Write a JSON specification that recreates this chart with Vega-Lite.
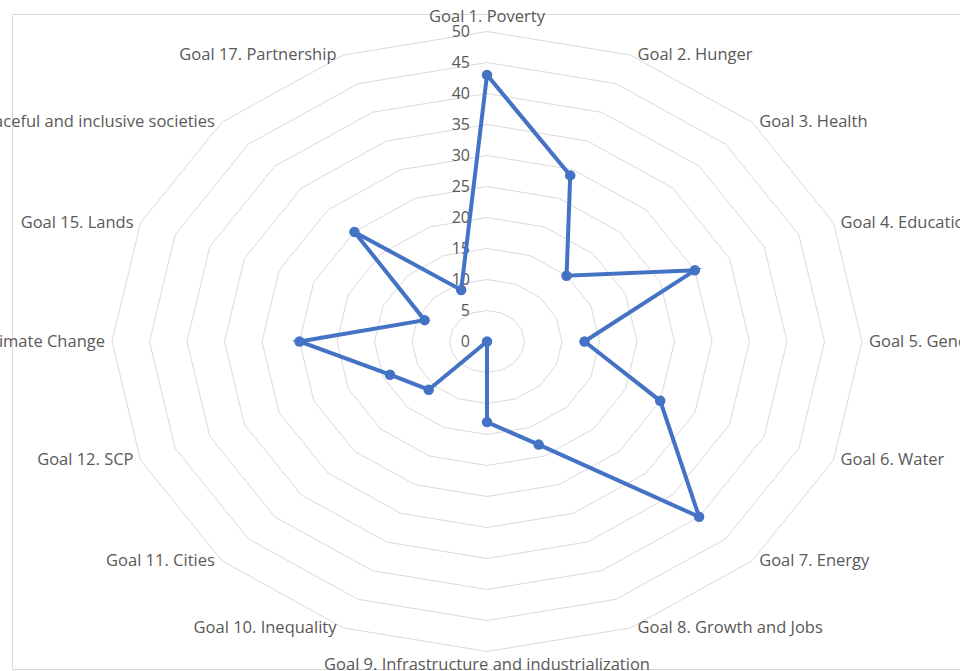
{
  "$schema": "https://vega.github.io/schema/vega-lite/v6.json",
  "width": 948,
  "height": 655,
  "autosize": {"type": "none"},
  "padding": {"left": 12, "top": 14, "right": 0, "bottom": 2},
  "background": "white",
  "config": {
    "view": {"stroke": "#d9d9d9", "strokeWidth": 1},
    "text": {"font": "Open Sans", "fontSize": 16.5, "fill": "#595959"}
  },
  "datasets": {
    "goals": [
      {"idx": 0, "goal": "Goal 1. Poverty", "value": 43},
      {"idx": 1, "goal": "Goal 2. Hunger", "value": 29},
      {"idx": 2, "goal": "Goal 3. Health", "value": 15},
      {"idx": 3, "goal": "Goal 4. Education", "value": 30},
      {"idx": 4, "goal": "Goal 5. Gender", "value": 13},
      {"idx": 5, "goal": "Goal 6. Water", "value": 25},
      {"idx": 6, "goal": "Goal 7. Energy", "value": 40},
      {"idx": 7, "goal": "Goal 8. Growth and Jobs", "value": 18},
      {"idx": 8, "goal": "Goal 9. Infrastructure and industrialization", "value": 13},
      {"idx": 9, "goal": "Goal 10. Inequality", "value": 0},
      {"idx": 10, "goal": "Goal 11. Cities", "value": 11},
      {"idx": 11, "goal": "Goal 12. SCP", "value": 14},
      {"idx": 12, "goal": "Goal 13. Climate Change", "value": 25},
      {"idx": 13, "goal": "Goal 15. Lands", "value": 9},
      {"idx": 14, "goal": "Goal 16. Peaceful and inclusive societies", "value": 25},
      {"idx": 15, "goal": "Goal 17. Partnership", "value": 9}
    ],
    "ticks": [
      {"level": 0, "spokes": [0,1,2,3,4,5,6,7,8,9,10,11,12,13,14,15]},
      {"level": 5, "spokes": [0,1,2,3,4,5,6,7,8,9,10,11,12,13,14,15]},
      {"level": 10, "spokes": [0,1,2,3,4,5,6,7,8,9,10,11,12,13,14,15]},
      {"level": 15, "spokes": [0,1,2,3,4,5,6,7,8,9,10,11,12,13,14,15]},
      {"level": 20, "spokes": [0,1,2,3,4,5,6,7,8,9,10,11,12,13,14,15]},
      {"level": 25, "spokes": [0,1,2,3,4,5,6,7,8,9,10,11,12,13,14,15]},
      {"level": 30, "spokes": [0,1,2,3,4,5,6,7,8,9,10,11,12,13,14,15]},
      {"level": 35, "spokes": [0,1,2,3,4,5,6,7,8,9,10,11,12,13,14,15]},
      {"level": 40, "spokes": [0,1,2,3,4,5,6,7,8,9,10,11,12,13,14,15]},
      {"level": 45, "spokes": [0,1,2,3,4,5,6,7,8,9,10,11,12,13,14,15]},
      {"level": 50, "spokes": [0,1,2,3,4,5,6,7,8,9,10,11,12,13,14,15]}
    ]
  },
  "layer": [
    {
      "data": {"name": "ticks"},
      "transform": [
        {"filter": "datum.level > 0"},
        {"flatten": ["spokes"], "as": ["idx"]},
        {"calculate": "datum.level * sin(datum.idx * PI / 8)", "as": "px"},
        {"calculate": "datum.level * cos(datum.idx * PI / 8)", "as": "py"}
      ],
      "mark": {"type": "line", "interpolate": "linear-closed", "stroke": "#d9d9d9", "strokeWidth": 1},
      "encoding": {
        "x": {"field": "px", "type": "quantitative", "scale": {"domain": [-50, 50], "range": [100, 850], "nice": false, "zero": false}, "axis": null},
        "y": {"field": "py", "type": "quantitative", "scale": {"domain": [-50, 50], "range": [637.5, 17.5], "nice": false, "zero": false}, "axis": null},
        "detail": {"field": "level", "type": "nominal"},
        "order": {"field": "idx", "type": "quantitative"}
      }
    },
    {
      "data": {"name": "ticks"},
      "transform": [
        {"calculate": "0", "as": "px"},
        {"calculate": "datum.level", "as": "py"}
      ],
      "mark": {"type": "text", "align": "right", "baseline": "middle", "dx": -17, "fontSize": 16},
      "encoding": {
        "x": {"field": "px", "type": "quantitative"},
        "y": {"field": "py", "type": "quantitative"},
        "text": {"field": "level", "type": "quantitative"}
      }
    },
    {
      "data": {"name": "goals"},
      "transform": [
        {"calculate": "datum.value * sin(datum.idx * PI / 8)", "as": "px"},
        {"calculate": "datum.value * cos(datum.idx * PI / 8)", "as": "py"}
      ],
      "mark": {"type": "line", "interpolate": "linear-closed", "stroke": "#4472C4", "strokeWidth": 4},
      "encoding": {
        "x": {"field": "px", "type": "quantitative"},
        "y": {"field": "py", "type": "quantitative"},
        "order": {"field": "idx", "type": "quantitative"}
      }
    },
    {
      "data": {"name": "goals"},
      "transform": [
        {"calculate": "datum.value * sin(datum.idx * PI / 8)", "as": "px"},
        {"calculate": "datum.value * cos(datum.idx * PI / 8)", "as": "py"}
      ],
      "mark": {"type": "circle", "size": 110, "fill": "#4472C4", "opacity": 1},
      "encoding": {
        "x": {"field": "px", "type": "quantitative"},
        "y": {"field": "py", "type": "quantitative"}
      }
    },
    {
      "data": {"name": "goals"},
      "transform": [
        {"filter": "datum.idx >= 1 && datum.idx <= 7"},
        {"calculate": "50 * sin(datum.idx * PI / 8)", "as": "px"},
        {"calculate": "50 * cos(datum.idx * PI / 8)", "as": "py"}
      ],
      "mark": {"type": "text", "align": "left", "baseline": "middle", "dx": 7},
      "encoding": {
        "x": {"field": "px", "type": "quantitative"},
        "y": {"field": "py", "type": "quantitative"},
        "text": {"field": "goal", "type": "nominal"}
      }
    },
    {
      "data": {"name": "goals"},
      "transform": [
        {"filter": "datum.idx >= 9"},
        {"calculate": "50 * sin(datum.idx * PI / 8)", "as": "px"},
        {"calculate": "50 * cos(datum.idx * PI / 8)", "as": "py"}
      ],
      "mark": {"type": "text", "align": "right", "baseline": "middle", "dx": -7},
      "encoding": {
        "x": {"field": "px", "type": "quantitative"},
        "y": {"field": "py", "type": "quantitative"},
        "text": {"field": "goal", "type": "nominal"}
      }
    },
    {
      "data": {"name": "goals"},
      "transform": [
        {"filter": "datum.idx == 0"},
        {"calculate": "0", "as": "px"},
        {"calculate": "50", "as": "py"}
      ],
      "mark": {"type": "text", "align": "center", "baseline": "middle", "dy": -15},
      "encoding": {
        "x": {"field": "px", "type": "quantitative"},
        "y": {"field": "py", "type": "quantitative"},
        "text": {"field": "goal", "type": "nominal"}
      }
    },
    {
      "data": {"name": "goals"},
      "transform": [
        {"filter": "datum.idx == 8"},
        {"calculate": "0", "as": "px"},
        {"calculate": "-50", "as": "py"}
      ],
      "mark": {"type": "text", "align": "center", "baseline": "middle", "dy": 13},
      "encoding": {
        "x": {"field": "px", "type": "quantitative"},
        "y": {"field": "py", "type": "quantitative"},
        "text": {"field": "goal", "type": "nominal"}
      }
    }
  ]
}
